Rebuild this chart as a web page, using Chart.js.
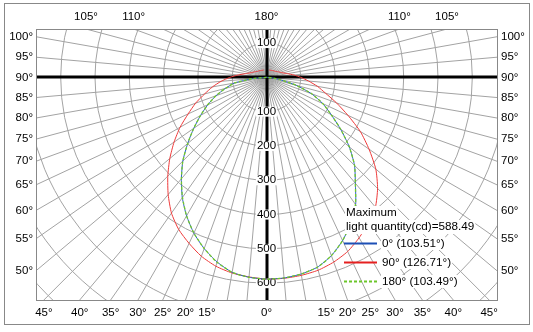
<!DOCTYPE html>
<html>
<head>
<meta charset="utf-8">
<script src="https://cdn.jsdelivr.net/npm/chart.js@4.4.1/dist/chart.umd.min.js"></script>
<style>
  html, body { margin: 0; padding: 0; background: #fff; }
  canvas { display: block; }
</style>
</head>
<body>
<canvas id="polarChart" width="533" height="332"></canvas>
<script>
// ==========================================
// DATA (cd per angle, angle measured from straight down)
// ==========================================
const ANGLES = [0, 5, 10, 15, 20, 25, 30, 35, 40, 45, 50, 55, 60, 65, 70, 75, 80, 85, 90,
                95, 100, 105, 110, 115, 120, 125, 130, 135, 140, 145, 150, 155, 160];

// C90 plane (red)
const RED_LEFT  = [588, 584, 579, 570, 555, 534, 512, 483, 446, 407, 368, 329, 291, 252, 220, 187, 160, 133, 107,
                   82, 62, 50, 43, 38, 34, 31, 29, 28, 26, 25, 24, 23, 23];
const RED_RIGHT = [588, 588, 586, 582, 573, 560, 540, 518, 494, 458, 416, 365, 316, 262, 217, 178, 151, 123, 100,
                   80, 62, 50, 43, 38, 34, 31, 29, 28, 26, 25, 24, 23, 23];

// C0 plane (blue) - only up to 90
const BLUE_LEFT  = [588, 585, 577, 557, 531, 501, 466, 428, 386, 345, 300, 259, 222, 189, 157, 124, 95, 40, 0];
const BLUE_RIGHT = [588, 587, 582, 573, 553, 525, 491, 453, 403, 363, 315, 264, 218, 181, 140, 90, 40, 15, 0];

// C180 plane (green dashed)
const GREEN_LEFT  = [588, 585, 577, 558, 531, 501, 466, 427, 386, 345, 300, 259, 222, 189, 157, 124, 94, 40, 0];
const GREEN_RIGHT = [588, 587, 582, 573, 553, 525, 491, 452, 403, 363, 315, 264, 218, 181, 140, 90, 40, 15, 0];

// grid + labels
const CIRCLE_VALUES = [100, 200, 300, 400, 500, 600, 700, 800, 900];
const VALUE_LABELS_UP = [100];
const VALUE_LABELS_DOWN = [100, 200, 300, 400, 500, 600];
const SIDE_ANGLE_LABELS = [100, 95, 90, 85, 80, 75, 70, 65, 60, 55, 50];
const BOTTOM_ANGLE_LABELS = [45, 40, 35, 30, 25, 20, 15];
const TOP_ANGLE_LABELS = [105, 110];

const LEGEND_TITLE = ['Maximum', 'light quantity(cd)=588.49'];
const SERIES_NAMES = ['0° (103.51°)', '90° (126.71°)', '180° (103.49°)'];

// --- CONFIG ---
const COLOR_BLUE = '#2f5fc8';
const COLOR_RED = '#ee3a3a';
const COLOR_GREEN = '#72c82a';
const GRID_COLOR = '#a3a3a3';
const FONT = '"Liberation Sans", Arial, sans-serif';

const toRad = a => a * Math.PI / 180;

// left half goes from top down to 0, right half from 0 back up
function toPoints(leftVals, rightVals) {
    const pts = [];
    for (let i = leftVals.length - 1; i >= 0; i--) {
        const a = toRad(ANGLES[i]);
        pts.push({ x: -leftVals[i] * Math.sin(a), y: -leftVals[i] * Math.cos(a) });
    }
    for (let i = 1; i < rightVals.length; i++) {
        const a = toRad(ANGLES[i]);
        pts.push({ x: rightVals[i] * Math.sin(a), y: -rightVals[i] * Math.cos(a) });
    }
    return pts;
}

// ==========================================
// POLAR GRID PLUGIN
// ==========================================
function textWithBox(ctx, txt, x, y, align, boxH) {
    const w = ctx.measureText(txt).width;
    let left = x - w / 2;
    if (align === 'left') left = x;
    if (align === 'right') left = x - w;
    ctx.fillStyle = '#fff';
    ctx.fillRect(left - 1, y - boxH / 2, w + 2, boxH);
    ctx.fillStyle = '#000';
    ctx.textAlign = align;
    ctx.fillText(txt, x, y);
}

function drawAxes(chart) {
    const { ctx, chartArea: area, scales } = chart;
    const cx = Math.round(scales.x.getPixelForValue(0));
    const cy = Math.round(scales.y.getPixelForValue(0));
    ctx.save();
    ctx.fillStyle = '#000';
    ctx.fillRect(area.left, cy - 1.5, area.right - area.left, 3);
    ctx.fillRect(cx - 1.5, area.top, 3, area.bottom - area.top);
    ctx.restore();
}

const polarGrid = {
    id: 'polarGrid',
    beforeDatasetsDraw(chart) {
        const { ctx, chartArea: area, scales } = chart;
        const cx = scales.x.getPixelForValue(0);
        const cy = scales.y.getPixelForValue(0);
        const pxPer = (scales.x.getPixelForValue(1000) - cx) / 1000;

        ctx.save();
        ctx.beginPath();
        ctx.rect(area.left, area.top, area.right - area.left, area.bottom - area.top);
        ctx.clip();

        ctx.strokeStyle = GRID_COLOR;
        ctx.lineWidth = 1;
        CIRCLE_VALUES.forEach(v => {
            ctx.beginPath();
            ctx.arc(cx, cy, v * pxPer, 0, Math.PI * 2);
            ctx.stroke();
        });
        for (let a = 0; a < 360; a += 5) {
            ctx.beginPath();
            ctx.moveTo(cx, cy);
            ctx.lineTo(cx + 1200 * Math.sin(toRad(a)), cy + 1200 * Math.cos(toRad(a)));
            ctx.stroke();
        }
        ctx.restore();

        drawAxes(chart);

        // angle labels where the rays leave the box
        const exitPoint = (a, sign) => {
            const dx = sign * Math.sin(toRad(a)), dy = Math.cos(toRad(a));
            let t = Infinity;
            if (dx > 1e-9) t = Math.min(t, (area.right - cx) / dx);
            if (dx < -1e-9) t = Math.min(t, (area.left - cx) / dx);
            if (dy > 1e-9) t = Math.min(t, (area.bottom - cy) / dy);
            if (dy < -1e-9) t = Math.min(t, (area.top - cy) / dy);
            return { x: cx + dx * t, y: cy + dy * t };
        };

        ctx.save();
        ctx.font = '11.5px ' + FONT;
        ctx.fillStyle = '#000';
        ctx.textBaseline = 'middle';
        SIDE_ANGLE_LABELS.forEach(a => {
            ctx.textAlign = 'right';
            ctx.fillText(a + '°', area.left - 3, exitPoint(a, -1).y);
            ctx.textAlign = 'left';
            ctx.fillText(a + '°', area.right + 4, exitPoint(a, 1).y);
        });
        ctx.textAlign = 'center';
        BOTTOM_ANGLE_LABELS.forEach(a => {
            ctx.fillText(a + '°', exitPoint(a, -1).x, area.bottom + 13);
            ctx.fillText(a + '°', exitPoint(a, 1).x, area.bottom + 13);
        });
        ctx.fillText('0°', cx, area.bottom + 13);
        TOP_ANGLE_LABELS.forEach(a => {
            ctx.fillText(a + '°', exitPoint(a, -1).x, area.top - 12);
            ctx.fillText(a + '°', exitPoint(a, 1).x, area.top - 12);
        });
        ctx.fillText('180°', cx, area.top - 12);

        // inner box + outer frame
        ctx.strokeStyle = '#888';
        ctx.lineWidth = 1;
        ctx.strokeRect(area.left + 0.5, area.top + 0.5, area.right - area.left, area.bottom - area.top);
        ctx.strokeRect(4.5, 3.5, 525, 321);
        ctx.restore();

        // cd labels on the vertical axis
        ctx.save();
        ctx.font = '11.5px ' + FONT;
        ctx.textBaseline = 'middle';
        VALUE_LABELS_UP.forEach(v => textWithBox(ctx, String(v), cx, scales.y.getPixelForValue(v), 'center', 10));
        VALUE_LABELS_DOWN.forEach(v => textWithBox(ctx, String(v), cx, scales.y.getPixelForValue(-v), 'center', 10));
        ctx.restore();
    },
    afterDatasetsDraw(chart) {
        const ctx = chart.ctx;

        // legend
        ctx.save();
        ctx.font = '11.7px ' + FONT;
        ctx.textBaseline = 'middle';
        textWithBox(ctx, LEGEND_TITLE[0], 346, 213, 'left', 14);
        textWithBox(ctx, LEGEND_TITLE[1], 346, 227, 'left', 14);

        const styles = [
            { color: '#1d4fb5', dash: [] },
            { color: '#e52020', dash: [] },
            { color: '#6cc62a', dash: [3, 2] }
        ];
        SERIES_NAMES.forEach((name, i) => {
            const y = 243.5 + i * 19;
            ctx.strokeStyle = styles[i].color;
            ctx.lineWidth = 2;
            ctx.setLineDash(styles[i].dash);
            ctx.beginPath();
            ctx.moveTo(344, y); ctx.lineTo(377, y);
            ctx.stroke();
            ctx.setLineDash([]);
            textWithBox(ctx, name, 382, y, 'left', 13);
        });
        ctx.restore();
    }
};

// ==========================================
// CHART
// ==========================================
const ctx = document.getElementById('polarChart').getContext('2d');
new Chart(ctx, {
    type: 'scatter',
    data: {
        datasets: [
            // first dataset is drawn last (on top)
            { label: SERIES_NAMES[2], data: toPoints(GREEN_LEFT, GREEN_RIGHT), borderColor: COLOR_GREEN, borderWidth: 1.3, borderDash: [3, 2] },
            { label: SERIES_NAMES[0], data: toPoints(BLUE_LEFT, BLUE_RIGHT), borderColor: COLOR_BLUE, borderWidth: 1 },
            { label: SERIES_NAMES[1], data: toPoints(RED_LEFT, RED_RIGHT), borderColor: COLOR_RED, borderWidth: 1 }
        ]
    },
    options: {
        responsive: false,
        animation: false,
        showLine: true,
        layout: { padding: { left: 36, right: 36, top: 29, bottom: 32 } },
        elements: { point: { radius: 0 }, line: { tension: 0.2, fill: false } },
        scales: {
            x: { type: 'linear', min: -672, max: 672, display: false },
            y: { type: 'linear', min: -649, max: 141, display: false }
        },
        plugins: { legend: { display: false }, tooltip: { enabled: false } }
    },
    plugins: [polarGrid]
});
</script>
</body>
</html>
